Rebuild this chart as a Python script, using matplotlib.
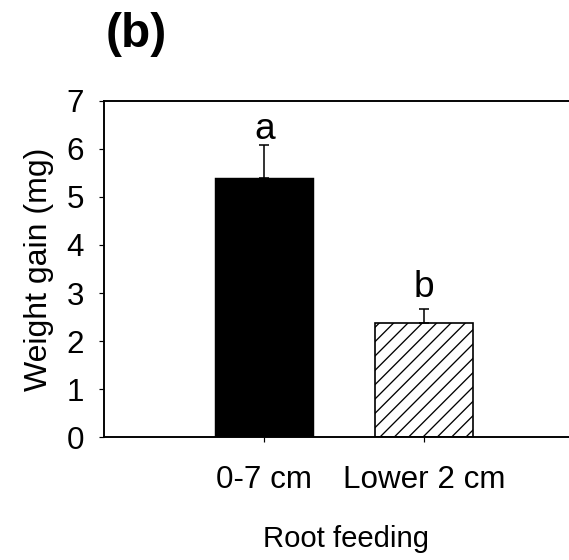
import matplotlib
matplotlib.use("Agg")
import matplotlib.pyplot as plt

categories = ["0-7 cm", "Lower 2 cm"]
means = [5.40, 2.37]
errors = [0.67, 0.30]
letters = ["a", "b"]
letter_y = [6.21, 2.91]
yticks = [0, 1, 2, 3, 4, 5, 6, 7]

DPI = 86
plt.rcParams['font.family'] = ['Liberation Sans', 'DejaVu Sans']
plt.rcParams['hatch.linewidth'] = 1.1

fig = plt.figure(figsize=(569 / DPI, 560 / DPI), dpi=DPI)
ax = fig.add_axes([104.3 / 569, 1 - 437.3 / 560, (590 - 104.3) / 569, (437.3 - 100.7) / 560])

x = list(range(len(categories)))
ax.bar(x[0], means[0], width=0.61, color='black', edgecolor='black', linewidth=1.2)
ax.bar(x[1], means[1], width=0.61, color='white', edgecolor='black', linewidth=1.4, hatch='//')
ax.errorbar(x, means, yerr=[[0, 0], errors], fmt='none', ecolor='black',
            elinewidth=1.3, capsize=4.6, capthick=1.3)

for xi, lab, ly in zip(x, letters, letter_y):
    ax.text(xi, ly, lab, ha='center', va='baseline', fontsize=31)

ax.set_xlim(-1.0, 2.036)
ax.set_ylim(0, 7)
ax.set_yticks(yticks)
ax.set_yticklabels([str(v) for v in yticks])
ax.set_xticks(x)
ax.set_xticklabels(categories)

for s in ['left', 'top', 'bottom']:
    ax.spines[s].set_linewidth(1.6)
ax.spines['right'].set_visible(False)

ax.tick_params(axis='y', direction='out', length=4.2, width=1.0, pad=13, labelsize=26.3)
ax.tick_params(axis='x', direction='out', length=4.2, width=1.0, pad=19, labelsize=26.3)

ax.set_ylabel("Weight gain (mg)", fontsize=26.8)
ax.yaxis.label.set_va('center')
ax.yaxis.set_label_coords((39 - 104.3) / 485.7, 0.5)
ax.set_xlabel("Root feeding", fontsize=24.5)
ax.xaxis.label.set_va('center')
ax.xaxis.set_label_coords((346 - 104.3) / 485.7, -(539 - 437.3) / 336.6)

fig.text(136 / 569, 1 - 47 / 560, "(b)", ha='center', va='baseline', fontsize=40, fontweight='bold')

fig.savefig("out.png", dpi=DPI)
